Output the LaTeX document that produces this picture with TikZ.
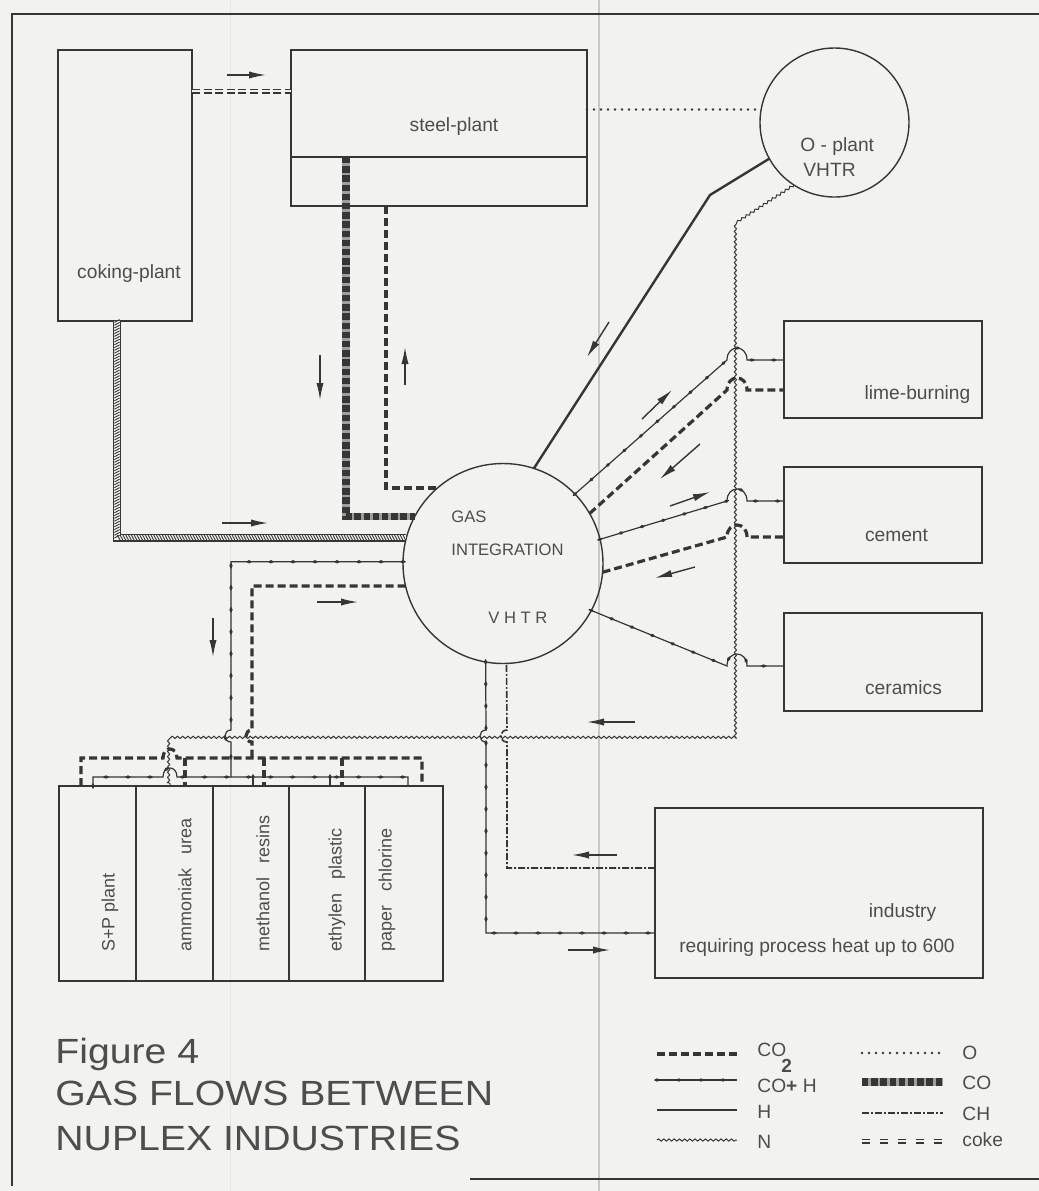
\documentclass[tikz,border=0pt]{standalone}
\usepackage{fontspec}
\setmainfont{Liberation Sans}
\usepackage{graphicx}
\usetikzlibrary{arrows.meta,decorations.markings,decorations.pathmorphing}
\definecolor{bg}{HTML}{F2F2F0}
\definecolor{ink}{HTML}{363636}
\definecolor{txt}{HTML}{4D4D4D}
\definecolor{fold}{HTML}{C8C8C6}
\begin{document}
\begin{tikzpicture}[x=0.5pt,y=-0.5pt,
  box/.style={draw=ink, line width=0.8pt, inner sep=0pt, outer sep=0pt},
  circ/.style={draw=ink, line width=0.7pt, circle, inner sep=0pt, outer sep=0pt},
  lbl/.style={text=txt, inner sep=0pt, font=\fontsize{9.6pt}{11pt}\selectfont},
  slbl/.style={text=txt, inner sep=0pt, font=\fontsize{8.3pt}{10pt}\selectfont},
  vlbl/.style={text=txt, inner sep=0pt, rotate=90, anchor=west, font=\fontsize{9pt}{10pt}\selectfont},
  ttl/.style={text=txt, inner sep=0pt, anchor=base west, font=\fontsize{17.5pt}{20pt}\selectfont},
  co2/.style={draw=ink, line width=1.6pt, dash pattern=on 4pt off 2pt},
  coh/.style={draw=ink, line width=0.6pt, postaction={decorate, decoration={markings,
      mark=between positions 0 and 1 step 11pt with {\fill[ink] (-3.2,0)--(0,1.7)--(3.2,0)--(0,-1.7)--cycle;}}}},
  hline/.style={draw=ink, line width=1.2pt},
  nline/.style={draw=ink, line width=0.5pt, decorate, decoration={snake, amplitude=0.55pt, segment length=2.6pt}},
  oline/.style={draw=ink, line width=1.4pt, line cap=round, dash pattern=on 0pt off 3.5pt},
  coline/.style={draw=gray!75, line width=3.6pt, postaction={draw=ink, line width=3.6pt, dash pattern=on 3.2pt off 1.4pt}},
  chline/.style={draw=ink, line width=0.8pt, dash pattern=on 3.5pt off 1pt on 1pt off 1pt},
  cokeline/.style={draw=ink, line width=0.7pt, double=bg, double distance=1.1pt, dash pattern=on 4pt off 1.8pt},
  cokeleg/.style={draw=ink, line width=0.7pt, double=bg, double distance=1.1pt, dash pattern=on 4pt off 5pt},
  hatchband/.style={draw=ink, line width=0.7pt, double=bg, double distance=2.6pt,
      postaction={decorate, decoration={markings,
      mark=between positions 0 and 1 step 1.4pt with {\draw[ink, line width=0.45pt] (-1.4,-2.6) -- (1.4,2.6);}}}},
  dirarrow/.style={draw=ink, line width=0.7pt, -{Latex[length=8.5pt,width=3.6pt]}}
]
% background, folds, frame
\fill[bg] (0,0) rectangle (1039,1191);
\useasboundingbox (0,0) rectangle (1039,1191);
\draw[fold, line width=1.4pt] (599,0) -- (599,1191);
\draw[fold!45, line width=0.4pt] (230,0) -- (230,1191);
\draw[ink, line width=1.2pt] (1039,14) -- (12,14) -- (12,1186);
\draw[ink, line width=1.2pt] (470,1179) -- (1039,1179);

% nodes
\node[box, minimum width=67pt, minimum height=135.5pt] (coking) at (125,185.5) {};
\node[box, minimum width=148pt, minimum height=78pt] (steel) at (439,128) {};
\coordinate (steelmid) at (291,157);
\draw[ink, line width=0.8pt] (steelmid) -- (steel.east |- steelmid);
\node[circ, minimum size=74.5pt] (oplant) at (834.5,122.5) {};
\node[circ, minimum size=100pt] (gas) at (503,563.5) {};
\node[box, minimum width=99pt, minimum height=48.5pt] (lime) at (883,369.5) {};
\node[box, minimum width=99pt, minimum height=48pt] (cement) at (883,515) {};
\node[box, minimum width=99pt, minimum height=49pt] (ceramics) at (883,662) {};
\node[box, minimum width=164pt, minimum height=85pt] (industry) at (819,893) {};
\node[box, minimum width=38.5pt, minimum height=97.5pt] (b1) at (97.5,883.5) {};
\node[box, minimum width=38.5pt, minimum height=97.5pt] (b2) at (174.5,883.5) {};
\node[box, minimum width=38pt, minimum height=97.5pt] (b3) at (251,883.5) {};
\node[box, minimum width=38pt, minimum height=97.5pt] (b4) at (327,883.5) {};
\node[box, minimum width=39pt, minimum height=97.5pt] (b5) at (404,883.5) {};

% labels
\node[lbl] (tcoking) at (129,274) {coking-plant};
\node[lbl] (tsteel) at (454,127) {steel-plant};
\node[lbl, anchor=west] (top1) at (800,147) {O - plant};
\node[lbl, anchor=west] (top2) at (803,170) {VHTR};
\node[slbl, anchor=west] (tgas1) at (451,517) {GAS};
\node[slbl, anchor=west] (tgas2) at (451,550) {INTEGRATION};
\node[slbl, anchor=west] (tgas3) at (488,618) {V H T R};
\node[lbl] (tlime) at (917.5,395) {lime-burning};
\node[lbl] (tcement) at (896.5,535) {cement};
\node[lbl] (tceram) at (903.5,688) {ceramics};
\node[lbl] (tind1) at (902.5,913) {industry};
\node[lbl] (tind2) at (817,948) {requiring process heat up to 600};
\node[vlbl] (tb1) at (110,952) {S+P plant};
\node[vlbl] (tb2) at (185,952) {ammoniak\hspace{0.8em}urea};
\node[vlbl] (tb3) at (263,952) {methanol\hspace{0.8em}resins};
\node[vlbl] (tb4) at (337,952) {ethylen\hspace{0.8em}plastic};
\node[vlbl] (tb5) at (387,952) {paper\hspace{0.8em}chlorine};

% title
\node[ttl] (fig1) at (55,1063) {\scalebox{1.12}[1]{Figure 4}};
\node[ttl] (fig2) at (55,1105) {\scalebox{1.12}[1]{GAS FLOWS BETWEEN}};
\node[ttl] (fig3) at (55,1150) {\scalebox{1.12}[1]{NUPLEX INDUSTRIES}};

% connectors
\draw[cokeline] (coking.east |- 0,91) -- (steel.west |- 0,91);
\draw[oline] (steel.east |- oplant.170) -- (oplant.170);
\draw[co2] (386,0 |- steel.south) |- (gas.131);
\draw[coline] (346,0 |- steelmid) |- (gas.152);
\draw[hatchband] (117,0 |- coking.south) |- (gas.165);

% N line
\draw[nline] (oplant.237) -- (737,222) -- (737,736) -- (170,736) -- (170,0 |- b2.north);

% left feeds with hops
\draw[coh] (gas.179) -| (231,730) .. controls (223,730) and (223,742) .. (231,742) -- (231,777);
\draw[co2] (gas.193) -| (252,730) .. controls (244,730) and (244,742) .. (252,742) -- (252,758);

% manifolds
\draw[co2] (81,0 |- b1.north) -- (81,758) -- (163,758) .. controls (163,746) and (177,746) .. (177,758) -- (422,758) -- (422,0 |- b5.north);
\draw[co2] (185,758) -- (185,0 |- b2.north);
\draw[co2] (264,758) -- (264,0 |- b3.north);
\draw[co2] (342,758) -- (342,0 |- b4.north);
\draw[coh] (93,0 |- b1.north) -- (93,777) -- (163,777) .. controls (163,765) and (177,765) .. (177,777) -- (408,777) -- (408,0 |- b5.north);
\draw[coh] (253,777) -- (253,0 |- b3.north);
\draw[coh] (330,777) -- (330,0 |- b4.north);

% H line
\draw[hline] (gas.72) -- (710,195) -- (oplant.209);

% right side
\draw[coh] (gas.44) -- (727,360) .. controls (727,344) and (747,344) .. (747,360) -- (lime.west |- 0,360);
\draw[co2] (gas.30) -- (727,390) .. controls (727,374) and (747,374) .. (747,390) -- (lime.west |- 0,390);
\draw[coh] (gas.14) -- (727,501) .. controls (727,485) and (747,485) .. (747,501) -- (cement.west |- 0,501);
\draw[co2] (gas.355) -- (727,537) .. controls (727,521) and (747,521) .. (747,537) -- (cement.west |- 0,537);
\draw[coh] (gas.332) -- (727,666) .. controls (727,650) and (747,650) .. (747,666) -- (ceramics.west |- 0,666);

% industry
\draw[coh] (gas.260) -- (486,730) .. controls (478,730) and (478,742) .. (486,742) -- (486,933) -- (industry.west |- 0,933);
\draw[chline] (industry.west |- 0,868) -- (507,868) -- (507,742) .. controls (499,742) and (499,730) .. (507,730) -- (gas.272);

% direction arrows
\draw[dirarrow] (227,75) -- (266,75);
\draw[dirarrow] (320,355) -- (320,400);
\draw[dirarrow] (405,385) -- (405,347);
\draw[dirarrow] (222,523) -- (268,523);
\draw[dirarrow] (317,602) -- (358,602);
\draw[dirarrow] (213,618) -- (213,657);
\draw[dirarrow] (609,322) -- (587,357);
\draw[dirarrow] (642,419) -- (672,390);
\draw[dirarrow] (700,444) -- (660,479);
\draw[dirarrow] (670,506) -- (710,492);
\draw[dirarrow] (695,567) -- (655,578);
\draw[dirarrow] (635,722) -- (587,722);
\draw[dirarrow] (617,855) -- (572,855);
\draw[dirarrow] (568,950) -- (610,950);

% legend
\draw[co2] (657,1054) -- (737,1054);
\draw[coh] (657,1080) -- (737,1080);
\draw[hline] (657,1110) -- (737,1110);
\draw[nline] (657,1140) -- (737,1140);
\draw[oline] (862,1053) -- (943,1053);
\draw[coline] (862,1082) -- (943,1082);
\draw[chline] (862,1113) -- (943,1113);
\draw[cokeleg] (862,1141) -- (943,1141);
\node[lbl, anchor=west] (lg1) at (757,1050) {CO};
\node[text=txt, inner sep=0pt, font=\fontsize{9.5pt}{10pt}\selectfont\bfseries, anchor=north west] (lg1b) at (781,1059) {2};
\node[lbl, anchor=west] (lg2) at (757,1086) {CO{\bfseries+} H};
\node[lbl, anchor=west] (lg3) at (757,1112) {H};
\node[lbl, anchor=west] (lg4) at (757,1142) {N};
\node[lbl, anchor=west] (lg5) at (962,1053) {O};
\node[lbl, anchor=west] (lg6) at (962,1083) {CO};
\node[lbl, anchor=west] (lg7) at (962,1114) {CH};
\node[lbl, anchor=west] (lg8) at (962,1140) {coke};
\end{tikzpicture}
\end{document}
